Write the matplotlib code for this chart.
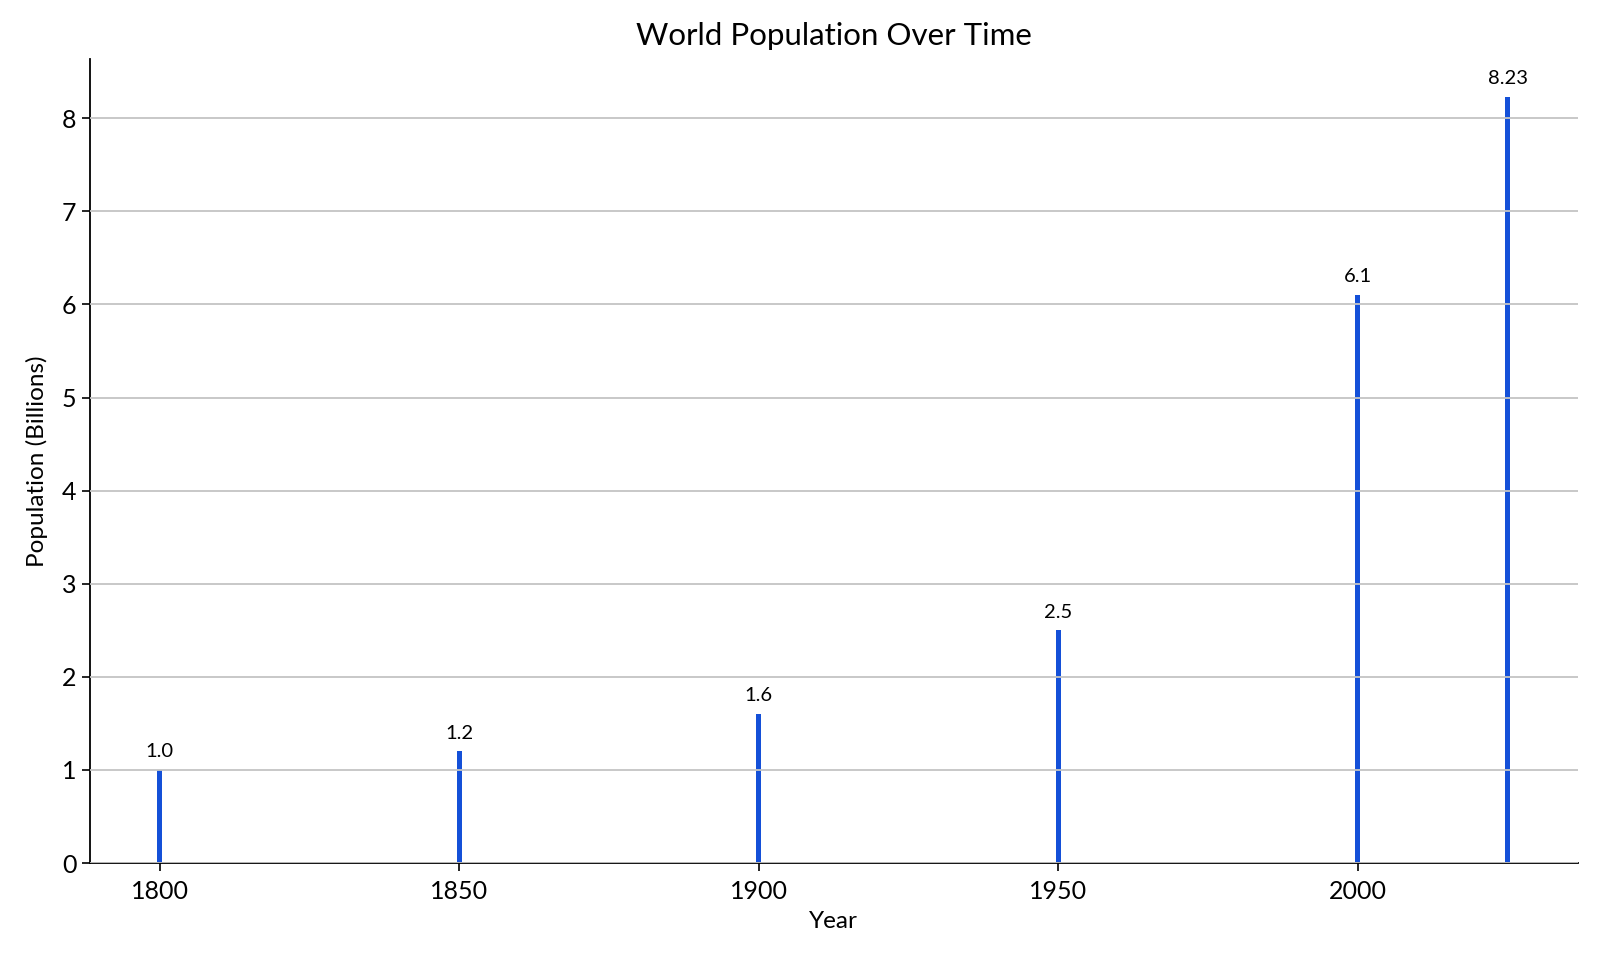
import matplotlib
matplotlib.use("Agg")
import matplotlib.pyplot as plt

years = [1800, 1850, 1900, 1950, 2000, 2025]
population = [1.0, 1.2, 1.6, 2.5, 6.1, 8.23]
labels = ["1.0", "1.2", "1.6", "2.5", "6.1", "8.23"]
xticks = [1800, 1850, 1900, 1950, 2000]

plt.rcParams['font.family'] = ['Lato', 'DejaVu Sans']

fig = plt.figure(figsize=(16, 9.6), dpi=100)
ax = fig.add_axes([0.056, 0.101, 0.930, 0.838])

bars = ax.bar(years, population, width=0.8, color="#1450d8")
for x, v, t in zip(years, population, labels):
    ax.annotate(t, (x, v), xytext=(0, 7), textcoords="offset points",
                ha="center", va="bottom", fontsize=14.5)

ax.set_xticks(xticks)
ax.set_yticks(range(0, 9))
ax.tick_params(axis='both', labelsize=18, length=6, width=1.2)
ax.tick_params(axis='x', pad=6)
ax.yaxis.grid(True, color="#c4c4c4", linewidth=1.3)
ax.set_axisbelow(False)
for s in ["top", "right"]:
    ax.spines[s].set_visible(False)
for s in ["left", "bottom"]:
    ax.spines[s].set_linewidth(1.3)

ax.set_title("World Population Over Time", fontsize=22.5, pad=10)
ax.set_xlabel("Year", fontsize=17.5, labelpad=6)
ax.set_ylabel("Population (Billions)", fontsize=17.5, labelpad=10)

fig.savefig("out.png", dpi=100)
